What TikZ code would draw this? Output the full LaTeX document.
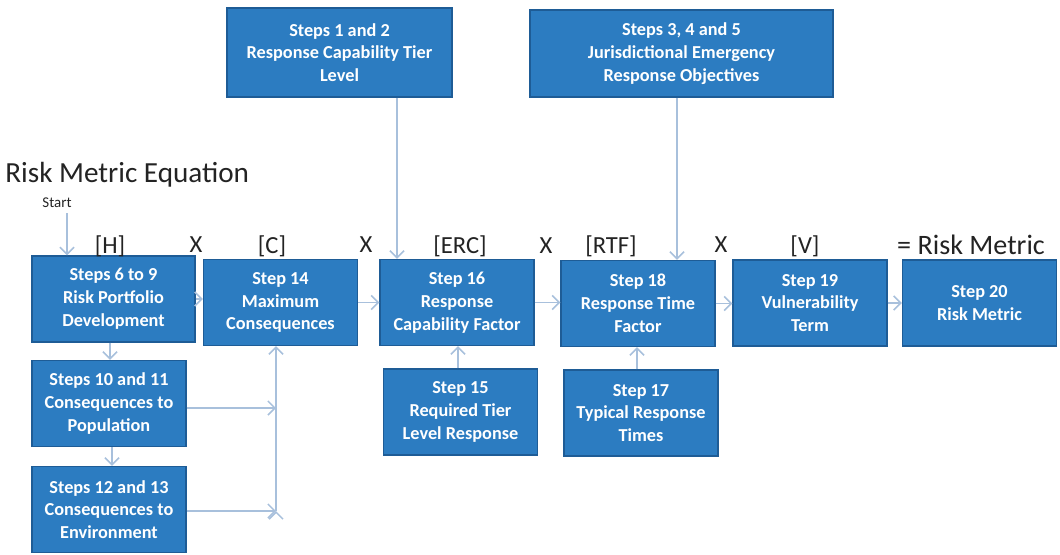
\documentclass[tikz,border=0pt]{standalone}
\usepackage{fontspec}
\setmainfont{Carlito}
\usetikzlibrary{arrows.meta}
\definecolor{boxfill}{RGB}{44,124,193}
\definecolor{boxedge}{RGB}{30,92,150}
\definecolor{linkcol}{RGB}{168,192,220}
\definecolor{labcol}{RGB}{35,35,35}
\begin{document}
\begin{tikzpicture}[x=0.02cm,y=-0.02cm,
                    task box/.style={rectangle,draw=boxedge,fill=boxfill,line width=0.8pt,text=white,
                      font=\bfseries\fontsize{10.4}{13}\selectfont,align=center,
                      minimum width=3.08cm,minimum height=1.72cm,inner sep=1pt},
                    factor/.style={text=labcol,font=\fontsize{14}{16}\selectfont,inner sep=0pt},
                    flow/.style={draw=linkcol,line width=0.9pt,-{Straight Barb[length=4pt,width=8pt]}}
                   ]
  \useasboundingbox (0,0) rectangle (1060,554);

  % top inputs
  \node[task box,minimum width=4.5cm,minimum height=1.78cm] (s12) at (339.5,52.5) {Steps 1 and 2\\Response Capability Tier\\Level};
  \node[task box,minimum width=6.06cm,minimum height=1.74cm] (s345) at (681.5,53.5) {Steps 3, 4 and 5\\Jurisdictional Emergency\\Response Objectives};

  % main row
  \node[task box,minimum width=3.26cm] (s69) at (113.5,299) {Steps 6 to 9\\Risk Portfolio\\Development};
  \node[task box] (s14) at (280.5,302.5) {Step 14\\Maximum\\Consequences};
  \node[task box] (s16) at (457,302.5) {Step 16\\Response\\Capability Factor};
  \node[task box] (s18) at (638,303.5) {Step 18\\Response Time\\Factor};
  \node[task box] (s19) at (810,303) {Step 19\\Vulnerability\\Term};
  \node[task box] (s20) at (979.5,303) {Step 20\\Risk Metric};

  % lower boxes
  \node[task box] (s1011) at (109,403.5) {Steps 10 and 11\\Consequences to\\Population};
  \node[task box] (s1213) at (109,509.5) {Steps 12 and 13\\Consequences to\\Environment};
  \node[task box] (s15) at (460.5,412) {Step 15\\Required Tier\\Level Response};
  \node[task box] (s17) at (641,413) {Step 17\\Typical Response\\Times};

  % labels
  \node[factor,font=\fontsize{16.6}{18}\selectfont,anchor=west] (title) at (5,175) {Risk Metric Equation};
  \node[factor,font=\fontsize{8.5}{10}\selectfont] (start) at (57,203) {Start};
  \node[factor] (lh) at (110,246) {[H]};
  \node[factor] (x1) at (196,245) {X};
  \node[factor] (lc) at (272,246) {[C]};
  \node[factor] (x2) at (366,245) {X};
  \node[factor] (lerc) at (460,246) {[ERC]};
  \node[factor] (x3) at (546,246) {X};
  \node[factor] (lrtf) at (611,246) {[RTF]};
  \node[factor] (x4) at (721,245) {X};
  \node[factor] (lv) at (805,246) {[V]};
  \node[factor,font=\fontsize{16}{18}\selectfont] (lrm) at (971,245) {= Risk Metric};

  \coordinate (startpt) at (67,213);
  \coordinate (join1) at (276,408);
  \coordinate (join2) at (276,511);

  \path[flow]%
   (startpt) edge (startpt |- s69.north)
   (s69.east) edge (s69.east -| s14.west)
   (s14.east) edge (s14.east -| s16.west)
   (s16.east) edge (s16.east -| s18.west)
   (s18.east) edge (s18.east -| s19.west)
   (s19.east) edge (s19.east -| s20.west)
   (s12.south -| 397,0) edge (s16.north -| 397,0)
   (s345.south -| 677,0) edge (s18.north -| 677,0)
   (s15.north -| 458,0) edge (s16.south -| 458,0)
   (s17.north -| 637,0) edge (s18.south -| 637,0)
   (s69.south -| 110,0) edge (s1011.north -| 110,0)
   (s1011.south -| 112,0) edge (s1213.north -| 112,0)
   (s1011.east |- join1) edge (join1)
   (s1213.east |- join2) edge (join2)
   (join2) edge (join2 |- s14.south);
\end{tikzpicture}
\end{document}
